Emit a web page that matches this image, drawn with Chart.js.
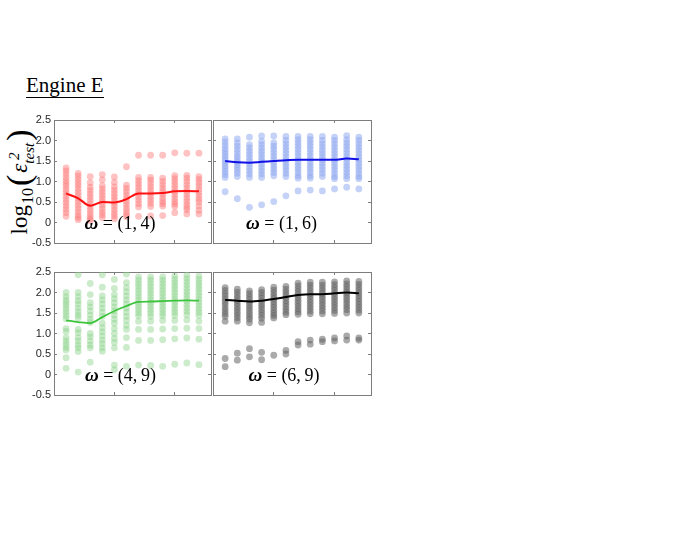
<!DOCTYPE html>
<html>
<head>
<meta charset="utf-8">
<script src="https://cdn.jsdelivr.net/npm/chart.js@4.4.1/dist/chart.umd.min.js"></script>
<style>
  body { margin: 0; background: #fff; }
  #wrap { position: relative; width: 693px; height: 536px; overflow: hidden; }
  #wrap canvas { position: absolute; }
  #title { position: absolute; left: 26px; top: 73px; font: 21px "Liberation Serif", serif; line-height: 24px; border-bottom: 1px solid #000; color: #000; }
  #ylab { position: absolute; left: 18px; top: 181px; transform: translate(-50%, -50%) rotate(-90deg);
          font: 23px "Liberation Serif", serif; white-space: nowrap; line-height: 1; color: #000; }
  #ylab .s10 { font-size: 16px; position: relative; top: 6px; margin-left: 1px; }
  #ylab .par { font-size: 34px; position: relative; top: 3px; margin: 0 2px; }
  #ylab .ss { display: inline-block; vertical-align: middle; font-size: 15px; line-height: 15px; font-style: italic; }
  #ylab .ss span { display: block; }
</style>
</head>
<body>
<div id="wrap">
  <div id="title">Engine E</div>
  <div id="ylab">log<span class="s10">10</span><span class="par">(</span><i>ε</i><span class="ss"><span>&nbsp;2</span><span>test</span></span><span class="par">)</span></div>
  <canvas id="c1" width="215" height="149" style="left:0px;top:107px"></canvas>
  <canvas id="c2" width="166" height="149" style="left:209px;top:107px"></canvas>
  <canvas id="c3" width="215" height="149" style="left:0px;top:259px"></canvas>
  <canvas id="c4" width="166" height="149" style="left:209px;top:259px"></canvas>
</div>
<script>
// column positions (12 runs per panel)
var runs = [1,2,3,4,5,6,7,8,9,10,11,12];
var yTicks = [-0.5, 0, 0.5, 1, 1.5, 2, 2.5];

// omega = (1,4)
var redCols = [
  [1.33,1.26,1.18,1.1,1.02,0.95,0.88,0.8,0.72,0.64,0.56,0.48,0.4,0.32,0.24,0.15],
  [1.2,1.13,1.05,0.97,0.9,0.82,0.74,0.66,0.58,0.5,0.42,0.34,0.26,0.18,0.12,0.07],
  [1.12,0.97,0.86,0.78,0.7,0.62,0.54,0.46,0.38,0.3,0.22,0.15,0.09,0.05],
  [1.17,1.04,0.9,0.82,0.74,0.66,0.58,0.5,0.42,0.34,0.26,0.19,0.12],
  [1.11,0.98,0.87,0.79,0.71,0.63,0.55,0.47,0.39,0.31,0.23,0.16,0.09],
  [1.36,0.91,0.83,0.75,0.67,0.59,0.51,0.43,0.35,0.27,0.2,0.14],
  [1.64,1.1,1.02,0.94,0.86,0.78,0.7,0.62,0.54,0.46,0.38,0.15],
  [1.64,1.1,1.03,0.95,0.87,0.79,0.71,0.63,0.55,0.47,0.39,0.16],
  [1.64,1.08,1.0,0.92,0.84,0.76,0.68,0.6,0.52,0.46,0.4,0.17],
  [1.7,1.14,1.07,0.99,0.91,0.83,0.75,0.67,0.59,0.51,0.45,0.39,0.24],
  [1.69,1.15,1.08,1.0,0.92,0.84,0.76,0.68,0.6,0.52,0.44,0.37,0.31,0.21],
  [1.69,1.12,1.05,0.97,0.89,0.81,0.73,0.65,0.57,0.5,0.4,0.3,0.21]
];
var redMean = [0.71,0.59,0.41,0.5,0.49,0.57,0.71,0.71,0.72,0.76,0.77,0.76];

// omega = (1,6)
var blueCols = [
  [2.04,1.96,1.88,1.8,1.73,1.66,1.59,1.52,1.45,1.38,1.31,1.24,1.17,1.1,0.75],
  [2.04,1.94,1.86,1.78,1.7,1.62,1.55,1.48,1.41,1.34,1.27,1.2,1.12,0.58],
  [2.08,1.9,1.82,1.74,1.66,1.58,1.5,1.42,1.34,1.26,1.18,1.1,0.37],
  [2.11,1.98,1.9,1.82,1.74,1.66,1.58,1.5,1.42,1.34,1.26,1.18,1.1,0.43],
  [2.11,1.94,1.86,1.78,1.7,1.62,1.54,1.46,1.38,1.3,1.22,1.14,0.51],
  [2.1,2.0,1.92,1.84,1.76,1.68,1.6,1.52,1.44,1.36,1.28,1.2,1.12,0.65],
  [2.1,2.02,1.94,1.86,1.78,1.7,1.62,1.54,1.46,1.38,1.3,1.22,1.14,1.08,0.77],
  [2.1,2.02,1.94,1.86,1.78,1.7,1.62,1.54,1.46,1.38,1.3,1.22,1.14,1.08,0.79],
  [2.1,2.0,1.92,1.84,1.76,1.68,1.6,1.52,1.44,1.36,1.28,1.2,1.12,0.77],
  [2.08,2.0,1.92,1.84,1.76,1.68,1.6,1.52,1.44,1.36,1.28,1.2,1.12,1.07,0.82],
  [2.12,2.02,1.94,1.86,1.78,1.7,1.62,1.54,1.46,1.38,1.3,1.22,1.14,1.07,0.86],
  [2.08,2.0,1.92,1.84,1.76,1.68,1.6,1.52,1.44,1.36,1.28,1.2,1.12,1.07,0.82]
];
var blueMean = [1.5,1.47,1.46,1.48,1.5,1.52,1.53,1.53,1.53,1.53,1.56,1.54];

// omega = (4,9)
var greenCols = [
  [2.0,1.9,1.82,1.75,1.68,1.6,1.52,1.44,1.36,1.12,1.05,0.9,0.82,0.74,0.66,0.6,0.41,0.15],
  [2.43,2.0,1.9,1.8,1.72,1.62,1.53,1.45,1.38,1.1,1.02,0.9,0.82,0.72,0.65,0.56,0.06],
  [2.22,1.95,1.75,1.65,1.55,1.45,1.35,1.27,1.0,0.92,0.82,0.72,0.65,0.3],
  [2.43,2.13,1.92,1.82,1.72,1.62,1.52,1.42,1.25,1.14,1.04,0.94,0.84,0.75,0.65,0.57],
  [2.32,2.1,1.95,1.85,1.75,1.65,1.55,1.45,1.35,1.25,1.12,1.0,0.88,0.78,0.65,0.23,0.12],
  [2.45,2.24,2.12,2.02,1.92,1.82,1.72,1.62,1.52,1.42,1.32,1.2,1.1,0.9,0.66,0.2],
  [2.38,2.3,2.22,2.14,2.06,1.98,1.9,1.82,1.74,1.66,1.58,1.5,1.43,1.3,1.1,0.83,0.23],
  [2.38,2.3,2.22,2.14,2.06,1.98,1.9,1.82,1.74,1.66,1.58,1.5,1.42,1.3,1.1,0.83,0.22],
  [2.38,2.3,2.22,2.14,2.06,1.98,1.9,1.82,1.74,1.66,1.58,1.5,1.43,1.32,1.11,0.85,0.2],
  [2.4,2.32,2.24,2.16,2.08,2.0,1.92,1.84,1.76,1.68,1.6,1.52,1.44,1.32,1.12,0.87,0.25],
  [2.42,2.34,2.26,2.18,2.1,2.02,1.94,1.86,1.78,1.7,1.62,1.54,1.46,1.33,1.13,0.89,0.28],
  [2.4,2.32,2.24,2.16,2.08,2.0,1.92,1.84,1.76,1.68,1.6,1.52,1.44,1.3,1.12,0.86,0.24]
];
var greenMean = [1.32,1.28,1.25,1.4,1.55,1.67,1.77,1.78,1.79,1.8,1.81,1.8];

// omega = (6,9)
var grayCols = [
  [2.12,2.05,1.98,1.91,1.84,1.77,1.7,1.62,1.55,1.48,1.42,1.3,0.39,0.19],
  [2.08,2.01,1.94,1.87,1.8,1.73,1.66,1.59,1.52,1.45,1.38,1.3,0.52,0.35],
  [2.04,1.97,1.9,1.83,1.76,1.69,1.62,1.55,1.48,1.41,1.35,1.26,0.63,0.43],
  [2.07,2.0,1.93,1.86,1.79,1.72,1.65,1.58,1.51,1.44,1.37,1.27,0.54,0.36],
  [2.13,2.06,1.99,1.92,1.85,1.78,1.71,1.64,1.57,1.5,1.44,1.38,0.47],
  [2.15,2.08,2.01,1.94,1.87,1.8,1.73,1.66,1.59,1.52,1.46,0.59,0.5],
  [2.23,2.16,2.09,2.02,1.95,1.88,1.81,1.74,1.67,1.6,1.53,1.47,0.8,0.72],
  [2.25,2.18,2.11,2.04,1.97,1.9,1.83,1.76,1.69,1.62,1.55,1.48,0.84,0.74],
  [2.25,2.18,2.11,2.04,1.97,1.9,1.83,1.76,1.69,1.62,1.55,1.48,0.86,0.8],
  [2.26,2.19,2.12,2.05,1.98,1.91,1.84,1.77,1.7,1.63,1.56,1.49,0.89,0.82],
  [2.28,2.21,2.14,2.07,2.0,1.93,1.86,1.79,1.72,1.65,1.58,1.5,0.94,0.84],
  [2.27,2.2,2.13,2.06,1.99,1.92,1.85,1.78,1.71,1.64,1.57,1.5,0.89,0.84]
];
var grayMean = [1.82,1.8,1.78,1.8,1.84,1.89,1.94,1.96,1.96,1.98,2.0,1.98];

var BOX = '#7d7d7d';

// draws the omega = (a,b) text on top of the points
var omegaLabel = {
  id: 'omegaLabel',
  afterDatasetsDraw: function(chart, args, opts) {
    var ctx = chart.ctx;
    var px = chart.scales.x.getPixelForValue(opts.at[0]);
    var py = chart.scales.y.getPixelForValue(opts.at[1]);
    var rest = ' = (' + opts.pair[0] + ',\u2009' + opts.pair[1] + ')';
    ctx.save();
    ctx.textBaseline = 'middle';
    ctx.fillStyle = '#000';
    ctx.font = 'italic bold 19px "Liberation Serif"';
    var w1 = ctx.measureText('\u03c9').width;
    ctx.font = '18px "Liberation Serif"';
    var w2 = ctx.measureText(rest).width;
    var x0 = px - (w1 + w2) / 2;
    ctx.font = 'italic bold 19px "Liberation Serif"';
    ctx.fillText('\u03c9', x0, py);
    ctx.font = '18px "Liberation Serif"';
    ctx.fillText(rest, x0 + w1, py);
    ctx.restore();
  }
};

// box side with inward tick marks (matlab style)
function axis(pos, min, max, step, showLabels, size) {
  return {
    type: 'linear', position: pos, min: min, max: max,
    grid: { drawOnChartArea: false, drawTicks: true, tickLength: -3, color: BOX, lineWidth: 1 },
    border: { display: true, color: BOX, width: 1 },
    ticks: {
      display: showLabels, stepSize: step, includeBounds: false, padding: 6,
      color: '#262626', font: { family: 'Liberation Sans', size: 11 }
    },
    afterFit: function(s) {
      if (pos === 'top' || pos === 'bottom') s.height = 0; else s.width = size;
    }
  };
}

function panel(id, cols, mean, pointColor, lineColor, lineWidth, tension, pair, at, left) {
  var pts = [];
  cols.forEach(function(col, i) {
    col.forEach(function(v) { pts.push({ x: runs[i], y: v }); });
  });
  var line = mean.map(function(v, i) { return { x: runs[i], y: v }; });
  new Chart(document.getElementById(id), {
    type: 'scatter',
    data: {
      datasets: [
        { data: line, showLine: true, borderColor: lineColor, borderWidth: lineWidth,
          pointRadius: 0, tension: tension, cubicInterpolationMode: 'monotone', fill: false },
        { data: pts, pointRadius: 3.4, pointBorderWidth: 0, backgroundColor: pointColor, borderWidth: 0 }
      ]
    },
    options: {
      responsive: false, animation: false,
      layout: { padding: { top: 13, bottom: 13, left: left ? 0 : 1, right: 1 } },
      plugins: { legend: { display: false }, tooltip: { enabled: false }, omegaLabel: { pair: pair, at: at } },
      scales: {
        x: axis('bottom', 0, 13, 5, false, 0),
        x2: axis('top', 0, 13, 5, false, 0),
        y: axis('left', yTicks[0], yTicks[yTicks.length - 1], 0.5, left, left ? 54 : 0),
        y2: axis('right', yTicks[0], yTicks[yTicks.length - 1], 0.5, false, 0)
      }
    },
    plugins: [omegaLabel]
  });
}

panel('c1', redCols, redMean, 'rgba(255,120,120,0.45)', '#ff1010', 2, 0, [1, 4], [5.47, -0.04], true);
panel('c2', blueCols, blueMean, 'rgba(140,165,240,0.5)', '#1010e6', 2, 0.4, [1, 6], [5.64, -0.04], false);
panel('c3', greenCols, greenMean, 'rgba(140,210,140,0.45)', '#3cc43c', 1.8, 0, [4, 9], [5.5, -0.04], true);
panel('c4', grayCols, grayMean, 'rgba(100,100,100,0.55)', '#000000', 2, 0.4, [6, 9], [5.84, -0.04], false);
</script>
</body>
</html>
